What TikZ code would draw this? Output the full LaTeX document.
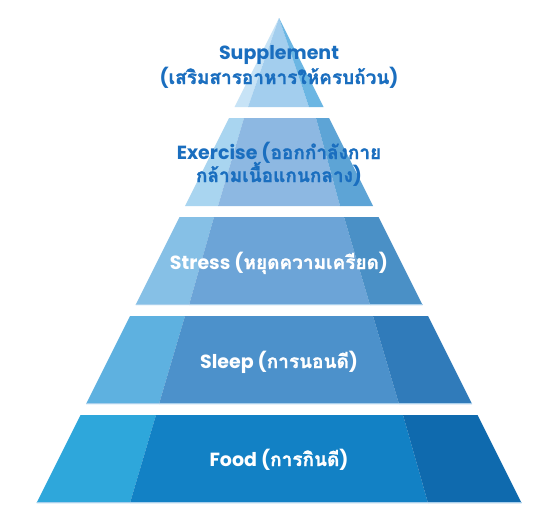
\documentclass[tikz,border=0pt]{standalone}
\usepackage{fontspec}
\setmainfont{Poppins}
\newfontfamily\thai[Script=Thai,Scale=1.0,BoldFeatures={FakeBold=1.2}]{Loma}
\definecolor{fA}{HTML}{2EA7DB}\definecolor{fB}{HTML}{1281C5}\definecolor{fC}{HTML}{0F6AAE}
\definecolor{sA}{HTML}{5EB1E0}\definecolor{sB}{HTML}{4C91CB}\definecolor{sC}{HTML}{307BBA}
\definecolor{tA}{HTML}{86C0E6}\definecolor{tB}{HTML}{6CA4D7}\definecolor{tC}{HTML}{4A90C6}
\definecolor{eA}{HTML}{A9D5F0}\definecolor{eB}{HTML}{8DB8E2}\definecolor{eC}{HTML}{5DA4D6}
\definecolor{uA}{HTML}{C7E3F6}\definecolor{uB}{HTML}{A3CEEE}\definecolor{uC}{HTML}{6BB6E3}
\definecolor{txtblue}{HTML}{1A6EBF}
\definecolor{edge}{HTML}{A9CFEC}
\tikzset{
  lbl/.style={font=\bfseries\fontsize{19}{22}\selectfont, align=center, inner sep=0pt, anchor=base},
  lblw/.style={lbl, text=white},
  lblb/.style={lbl, text=txtblue},
  baseedge/.style={draw=edge, line width=0.8pt},
}
\begin{document}
\begin{tikzpicture}[x=1pt,y=-1pt]
\useasboundingbox (0,0) rectangle (556,525);
\fill[white] (0,0) rectangle (556,525);
% Food: top 415 bottom 503
\fill[fA] (80.5,415) -- (156,415) -- (130,503) -- (36.5,503) -- cycle;
\fill[fB] (156,415) -- (403,415) -- (428,503) -- (130,503) -- cycle;
\fill[fC] (403,415) -- (477.5,415) -- (521.5,503) -- (428,503) -- cycle;
\draw[baseedge] (36.5,502.6) -- (521.5,502.6);
% Sleep: top 316 bottom 404
\fill[sA] (130,316) -- (185,316) -- (159,404) -- (86,404) -- cycle;
\fill[sB] (185,316) -- (373,316) -- (399,404) -- (159,404) -- cycle;
\fill[sC] (373,316) -- (428,316) -- (472,404) -- (399,404) -- cycle;
\draw[baseedge] (86,403.6) -- (472,403.6);
% Stress: top 217 bottom 305
\fill[tA] (179.5,217) -- (214,217) -- (189,305) -- (135.5,305) -- cycle;
\fill[tB] (214,217) -- (344,217) -- (370,305) -- (189,305) -- cycle;
\fill[tC] (344,217) -- (378.5,217) -- (422.5,305) -- (370,305) -- cycle;
\draw[baseedge] (135.5,304.6) -- (422.5,304.6);
% Exercise: top 118 bottom 206
\fill[eA] (229,118) -- (244,118) -- (218,206) -- (185,206) -- cycle;
\fill[eB] (244,118) -- (316,118) -- (340,206) -- (218,206) -- cycle;
\fill[eC] (316,118) -- (329,118) -- (373,206) -- (340,206) -- cycle;
% Supplement: apex 18 bottom 107
\fill[uA] (279,18) -- (248,107) -- (234.5,107) -- cycle;
\fill[uB] (279,18) -- (309,107) -- (248,107) -- cycle;
\fill[uC] (279,18) -- (323.5,107) -- (309,107) -- cycle;
% labels (base anchors)
\node[lblb] (supp1) at (279,59) {Supplement};
\node[lblb] (supp2) at (279,84) {({\thai เสริมสารอาหารให้ครบถ้วน})};
\node[lblb] (exer1) at (279,159) {Exercise ({\thai ออกกำลังกาย}};
\node[lblb] (exer2) at (279,182) {{\thai กล้ามเนื้อแกนกลาง})};
\node[lblw] (stress) at (279,269) {Stress ({\thai หยุดความเครียด})};
\node[lblw] (sleep) at (279,368) {Sleep ({\thai การนอนดี})};
\node[lblw] (food) at (279,466) {Food ({\thai การกินดี})};
\end{tikzpicture}
\end{document}
